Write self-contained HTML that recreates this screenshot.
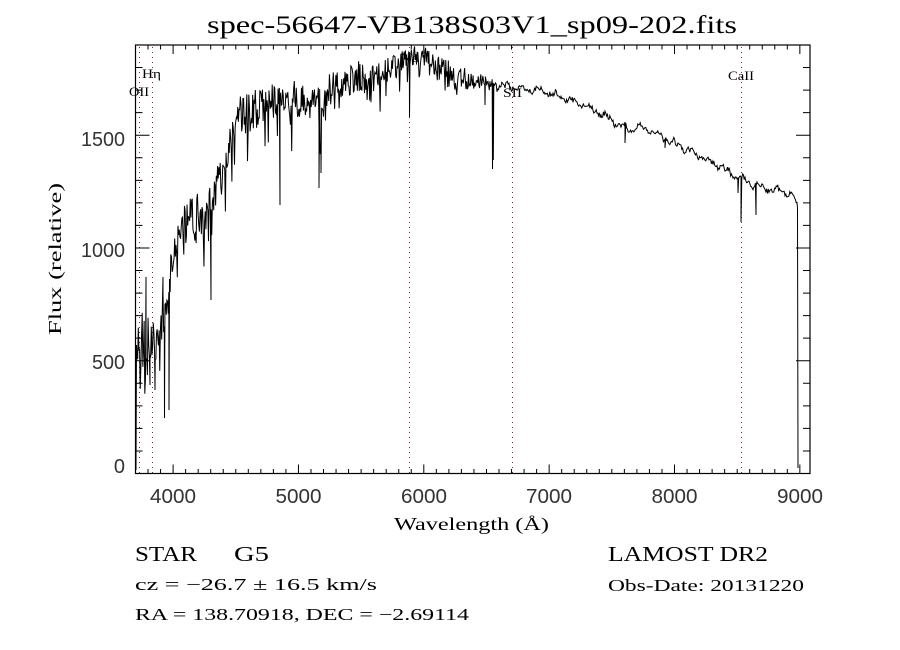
<!DOCTYPE html>
<html><head><meta charset="utf-8">
<style>
html,body{margin:0;padding:0;background:#fff;}
svg{display:block;}
.sans{font-family:"Liberation Sans",sans-serif;}
.serif{font-family:"Liberation Serif",serif;}
</style></head><body>
<svg id="s" width="900" height="650" viewBox="0 0 900 650" xmlns="http://www.w3.org/2000/svg">
<rect width="900" height="650" fill="#fff"/>
<defs><clipPath id="c"><rect x="135.5" y="45" width="674.5" height="428.5"/></clipPath></defs>

<!-- line markers -->
<g stroke="#8b2020" stroke-width="1" stroke-dasharray="1 4" fill="none" shape-rendering="crispEdges">
<line x1="139.5" y1="47" x2="139.5" y2="473"/>
<line x1="152.5" y1="47" x2="152.5" y2="473"/>
<line x1="409.5" y1="47" x2="409.5" y2="473"/>
<line x1="512.5" y1="47" x2="512.5" y2="473"/>
<line x1="741.5" y1="47" x2="741.5" y2="473"/>
</g>

<g id="spec" clip-path="url(#c)" fill="none" stroke="#000" stroke-width="1" stroke-linejoin="miter">
<polyline id="fallback" points="136,470 137,350 150,340 163,315 168,320 171,262 182,225 207,215 212,190 226,150 240,112 270,100 318,100 330,82 370,72 405,60 425,55 450,72 490,82 520,88 560,96 600,113 620,125 638,126 660,136 700,156 735,176 760,188 793,196 797,205 798,468"/>
</g>

<g id="ticks" stroke="#000" stroke-width="1" fill="none"></g>

<rect x="135.5" y="45" width="674.5" height="428.5" fill="none" stroke="#000" stroke-width="1.2"/>

<!-- line labels -->
<g class="serif" font-size="13" fill="#000">
<text x="129" y="96" textLength="20" lengthAdjust="spacingAndGlyphs">OII</text>
<text x="142" y="78" textLength="19" lengthAdjust="spacingAndGlyphs">Hη</text>
<text x="400" y="62" textLength="19" lengthAdjust="spacingAndGlyphs">Na</text>
<text x="503" y="97" textLength="19" lengthAdjust="spacingAndGlyphs">SII</text>
<text x="728" y="80" textLength="26" lengthAdjust="spacingAndGlyphs">CaII</text>
</g>

<!-- title -->
<text class="serif" x="207" y="33" font-size="25" textLength="530" lengthAdjust="spacingAndGlyphs">spec-56647-VB138S03V1_sp09-202.fits</text>

<!-- y tick labels -->
<g class="sans" font-size="20" fill="#333" text-anchor="end">
<text x="125" y="146" textLength="44" lengthAdjust="spacingAndGlyphs">1500</text>
<text x="125" y="257" textLength="44" lengthAdjust="spacingAndGlyphs">1000</text>
<text x="125" y="369" textLength="33" lengthAdjust="spacingAndGlyphs">500</text>
<text x="125" y="473">0</text>
</g>
<!-- x tick labels -->
<g class="sans" font-size="20" fill="#333" text-anchor="middle">
<text x="173" y="503" textLength="46" lengthAdjust="spacingAndGlyphs">4000</text>
<text x="298.5" y="503" textLength="46" lengthAdjust="spacingAndGlyphs">5000</text>
<text x="424" y="503" textLength="46" lengthAdjust="spacingAndGlyphs">6000</text>
<text x="549" y="503" textLength="46" lengthAdjust="spacingAndGlyphs">7000</text>
<text x="674.5" y="503" textLength="46" lengthAdjust="spacingAndGlyphs">8000</text>
<text x="800" y="503" textLength="46" lengthAdjust="spacingAndGlyphs">9000</text>
</g>

<!-- axis titles -->
<text class="serif" x="394" y="530" font-size="18" textLength="155" lengthAdjust="spacingAndGlyphs">Wavelength (Å)</text>
<text class="serif" font-size="18" text-anchor="middle" transform="translate(61,259) rotate(-90)" textLength="152" lengthAdjust="spacingAndGlyphs">Flux (relative)</text>

<!-- info text -->
<g class="serif" fill="#000" style="white-space:pre">
<text x="135" y="561" font-size="21" textLength="62" lengthAdjust="spacingAndGlyphs">STAR</text>
<text x="234" y="561" font-size="21" textLength="35" lengthAdjust="spacingAndGlyphs">G5</text>
<text x="608" y="561" font-size="21" textLength="160" lengthAdjust="spacingAndGlyphs">LAMOST DR2</text>
<text x="135" y="590" font-size="17" textLength="242" lengthAdjust="spacingAndGlyphs">cz = −26.7 ± 16.5 km/s</text>
<text x="135" y="620" font-size="17" textLength="334" lengthAdjust="spacingAndGlyphs">RA = 138.70918, DEC =  −2.69114</text>
<text x="608" y="591" font-size="17" textLength="196" lengthAdjust="spacingAndGlyphs">Obs-Date: 20131220</text>
</g>
</svg>

<script>
(function(){
var NS="http://www.w3.org/2000/svg";
// ticks
var d="";
for(var w=3800;w<=9000;w+=100){
  var x=135.5+(w-3700)*0.12535;
  var L=(w%1000==0)?9:4.5;
  d+="M"+x.toFixed(2)+",473.5v-"+L+"M"+x.toFixed(2)+",45v"+L;
}
for(var v=100;v<=1800;v+=100){
  var y=473.5-v*0.225526;
  var L2=(v%500==0)?14:7;
  d+="M135.5,"+y.toFixed(2)+"h"+L2+"M810,"+y.toFixed(2)+"h-"+L2;
}
var tp=document.createElementNS(NS,"path");tp.setAttribute("d",d);
document.getElementById("ticks").appendChild(tp);

// spectrum
function rng(a){return function(){a|=0;a=a+0x6D2B79F5|0;var t=Math.imul(a^a>>>15,1|a);t=t+Math.imul(t^t>>>7,61|t)^t;return((t^t>>>14)>>>0)/4294967296;};}
var R=rng(20131220);
// [x, top, bottom]
var env=[
[137,330,380],[144,300,370],[150,320,370],[158,320,360],[163,290,340],[168,300,350],
[171,250,275],[176,225,265],[182,205,250],[190,195,240],[200,200,240],[207,200,245],
[212,175,215],[220,160,200],[226,135,185],[233,115,160],[240,95,140],[255,88,130],
[270,85,125],[290,80,120],[305,80,115],[318,85,125],[322,95,140],[330,70,105],
[350,65,95],[370,62,90],[390,55,85],[405,48,75],[415,45,68],[425,47,70],
[435,55,85],[450,60,90],[470,70,90],[490,78,88],[500,83,89],[520,85.5,90.5],
[540,88.5,93.5],[560,93.5,98.5],[580,101.5,106.5],[600,110.5,115.5],[620,122.5,127.5],[630,127.5,132.5],
[638,124,128],[660,133.5,138.5],[680,143.5,148.5],[700,153.5,158.5],[720,163.5,168.5],[735,173.5,178.5],
[745,177.5,182.5],[760,185.5,190.5],[780,187.5,192.5],[793,194,198],[797,203.5,206.5]];
function interp(x){
  var a,b,t;
  if(x<=env[0][0]){a=env[0];return [(a[1]+a[2])/2,(a[2]-a[1])/2];}
  for(var i=1;i<env.length;i++){
    if(x<=env[i][0]){
      a=env[i-1];b=env[i];t=(x-a[0])/(b[0]-a[0]);
      var top=a[1]+t*(b[1]-a[1]), bot=a[2]+t*(b[2]-a[2]);
      return [(top+bot)/2,(bot-top)/2];
    }
  }
  a=env[env.length-1];return [(a[1]+a[2])/2,(a[2]-a[1])/2];
}
var dips=[[140,380],[146,277],[150,385],[155,390],[163,277],[164.5,418],[169,410],
[211,300],[280,205],[319,188],[321,173],[409.5,117],[485,105],[492.5,169],[493.3,160],
[625,143],[665,148],[738,193],[741,222],[756,215]];
var pts=[[136,470],[136.5,345]];
var di=0;
var x=137;
while(x<=797){
  while(di<dips.length&&dips[di][0]<=x){pts.push([dips[di][0],dips[di][1]]);di++;}
  var e=interp(x);
  var r=R()*2-1;
  var y=e[0]+r*e[1];
  if(x<490){
    if(R()<0.12) y+=e[1]*(0.4+1.4*R());
    else if(R()<0.05) y-=e[1]*0.5*R();
  } else {
    y+=2.0*Math.sin(x*0.37)+1.3*Math.sin(x*0.91+1.3);
  }
  pts.push([x,y]);
  x+=(x<490)?0.65:0.8;
}
pts.push([797.5,208],[798,468]);
var s="";
for(var i=0;i<pts.length;i++){s+=pts[i][0].toFixed(2)+","+pts[i][1].toFixed(2)+" ";}
var pl=document.createElementNS(NS,"polyline");
pl.setAttribute("points",s);
var g=document.getElementById("spec");
var fb=document.getElementById("fallback");
if(fb)g.removeChild(fb);
g.appendChild(pl);
})();
</script>
</body></html>
